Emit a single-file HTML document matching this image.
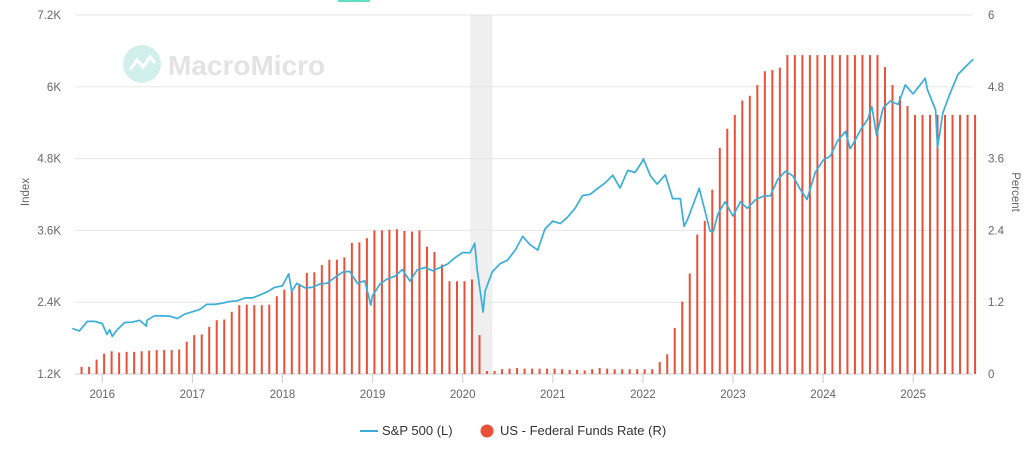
<!DOCTYPE html>
<html><head><meta charset="utf-8">
<style>
body{margin:0;background:#fff;font-family:"Liberation Sans",sans-serif;}
#wrap{position:relative;width:1029px;height:456px;overflow:hidden;}
svg text{font-family:"Liberation Sans",sans-serif;}
</style></head>
<body>
<div id="wrap">
<svg id="chart" width="1029" height="456"></svg>
</div>
<script>
const leftTicks=[1200,2400,3600,4800,6000,7200];
const leftTickLabels=["1.2K","2.4K","3.6K","4.8K","6K","7.2K"];
const rightTicks=[0,1.2,2.4,3.6,4.8,6];
const rightTickLabels=["0","1.2","2.4","3.6","4.8","6"];
const years=[2016,2017,2018,2019,2020,2021,2022,2023,2024,2025];
const ffStart=[2015,10];
const ffRate=[0.12,0.12,0.24,
0.34,0.38,0.36,0.37,0.37,0.38,0.39,0.40,0.40,0.40,0.41,0.54,
0.65,0.66,0.79,0.90,0.91,1.04,1.15,1.16,1.15,1.15,1.16,1.30,
1.41,1.42,1.51,1.69,1.70,1.82,1.91,1.91,1.95,2.19,2.20,2.27,
2.40,2.40,2.41,2.42,2.39,2.38,2.40,2.13,2.04,1.83,1.55,1.55,
1.55,1.58,0.65,0.05,0.05,0.08,0.09,0.10,0.09,0.09,0.09,0.09,
0.09,0.08,0.07,0.07,0.06,0.08,0.10,0.09,0.08,0.08,0.08,0.08,
0.08,0.08,0.20,0.33,0.77,1.21,1.68,2.33,2.56,3.08,3.78,4.10,
4.33,4.57,4.65,4.83,5.06,5.08,5.12,5.33,5.33,5.33,5.33,5.33,
5.33,5.33,5.33,5.33,5.33,5.33,5.33,5.33,5.13,4.83,4.64,4.48,
4.33,4.33,4.33,4.33,4.33,4.33,4.33,4.33,4.33];
const spDates=["2015-09-01","2015-09-30","2015-10-31","2015-11-30","2015-12-31","2016-01-20","2016-01-31","2016-02-11","2016-02-29","2016-03-31","2016-04-30","2016-05-31","2016-06-27","2016-06-30","2016-07-31","2016-08-31","2016-09-30","2016-10-31","2016-11-30","2016-12-31",
"2017-01-31","2017-02-28","2017-03-31","2017-04-30","2017-05-31","2017-06-30","2017-07-31","2017-08-31","2017-09-30","2017-10-31","2017-11-30","2017-12-31",
"2018-01-26","2018-02-08","2018-02-28","2018-03-31","2018-04-30","2018-05-31","2018-06-30","2018-07-31","2018-08-31","2018-09-30","2018-10-31","2018-11-30","2018-12-24","2018-12-31",
"2019-01-31","2019-02-28","2019-03-31","2019-04-30","2019-05-31","2019-06-30","2019-07-31","2019-08-31","2019-09-30","2019-10-31","2019-11-30","2019-12-31",
"2020-01-31","2020-02-19","2020-02-29","2020-03-23","2020-03-31","2020-04-30","2020-05-31","2020-06-30","2020-07-31","2020-08-31","2020-09-30","2020-10-31","2020-11-30","2020-12-31",
"2021-01-31","2021-02-28","2021-03-31","2021-04-30","2021-05-31","2021-06-30","2021-07-31","2021-08-31","2021-09-30","2021-10-31","2021-11-30","2021-12-31",
"2022-01-03","2022-01-31","2022-02-28","2022-03-31","2022-04-30","2022-05-31","2022-06-16","2022-06-30","2022-07-31","2022-08-16","2022-09-30","2022-10-12","2022-10-31","2022-11-30","2022-12-31",
"2023-01-31","2023-02-28","2023-03-31","2023-04-30","2023-05-31","2023-06-30","2023-07-31","2023-08-31","2023-09-30","2023-10-27","2023-11-30","2023-12-31",
"2024-01-31","2024-02-29","2024-03-31","2024-04-19","2024-04-30","2024-05-31","2024-06-30","2024-07-16","2024-08-05","2024-08-31","2024-09-30","2024-10-31","2024-11-30","2024-12-31",
"2025-01-31","2025-02-19","2025-02-28","2025-03-31","2025-04-08","2025-04-30","2025-05-31","2025-06-30","2025-07-31","2025-08-31"];
const spValues=[1960,1920,2079,2080,2044,1860,1940,1829,1932,2060,2065,2097,2000,2099,2174,2171,2168,2126,2199,2239,
2279,2364,2363,2384,2412,2423,2470,2472,2519,2575,2648,2674,
2873,2581,2714,2641,2648,2705,2718,2816,2902,2914,2712,2760,2351,2507,
2704,2784,2834,2946,2752,2942,2980,2926,2977,3038,3141,3231,
3226,3386,2954,2237,2585,2912,3044,3100,3271,3500,3363,3270,3622,3756,
3714,3811,3973,4181,4204,4298,4395,4523,4308,4605,4567,4766,
4797,4516,4374,4530,4132,4132,3667,3785,4130,4305,3586,3577,3872,4080,3840,
4077,3970,4109,4169,4180,4450,4589,4508,4288,4117,4568,4770,
4846,5096,5254,4967,5036,5278,5460,5667,5186,5648,5762,5705,6032,5882,
6041,6144,5955,5612,4983,5569,5912,6205,6339,6460];
const recession=["2020-02-01","2020-04-30"];

const NS="http://www.w3.org/2000/svg";
const svg=document.getElementById('chart');
const X0=75,X1=973,YT=15,YB=374;
function tYear(s){const p=s.split('-').map(Number);return p[0]+(p[1]-1)/12+(p[2]-1)/365;}
function xs(t){return 102.3+(t-2016)*90.1;}
function yL(v){return YB-(v-1200)/6000*(YB-YT);}
function yR(v){return YB-v/6*(YB-YT);}
function el(tag,attrs,parent){const e=document.createElementNS(NS,tag);for(const k in attrs)e.setAttribute(k,attrs[k]);(parent||svg).appendChild(e);return e;}

const wm=el('g',{opacity:0.35});


el('circle',{cx:142,cy:64,r:19,fill:'#7fd6c8'},wm);
el('path',{d:'M130 70 L137 60 L143 67 L150 57 L155 63',stroke:'#fff','stroke-width':3,fill:'none'},wm);
const wt=el('text',{x:168,y:75,'font-size':28,'font-weight':'bold',fill:'#b0b0b0'},wm);wt.textContent='MacroMicro';
el('rect',{x:338,y:0,width:32,height:2,fill:'#5fe0c0'});

const r=el('rect',{x:xs(tYear(recession[0])),y:YT,width:xs(tYear(recession[1]))-xs(tYear(recession[0])),height:YB-YT,fill:'#efefef'});



leftTicks.forEach((v,i)=>{
  const g=el('line',{x1:X0,x2:X1,y1:yL(v),y2:yL(v),stroke:i==0?'#ccc':'#e6e6e6','stroke-width':1});
  
  
  const t=el('text',{x:61,y:yL(v)+4,'text-anchor':'end','font-size':11.5,fill:'#666'});
  
  
  t.textContent=leftTickLabels[i];
});
rightTicks.forEach((v,i)=>{
  const t=el('text',{x:988,y:yR(v)+4,'font-size':11.5,fill:'#666'});
  
  
  t.textContent=rightTickLabels[i];
});
years.forEach(y=>{
  const x=xs(y);
  el('line',{x1:x,x2:x,y1:YB,y2:YB+9,stroke:'#ccc'});
  const t=el('text',{x:x,y:398,'text-anchor':'middle','font-size':11.5,fill:'#666'});
  
  
  t.textContent=y;
});
const yl=el('text',{x:0,y:0,transform:'translate(29,192) rotate(-90)','text-anchor':'middle','font-size':11.5,fill:'#666'});


yl.textContent='Index';
const yr=el('text',{x:0,y:0,transform:'translate(1012,192) rotate(90)','text-anchor':'middle','font-size':11.5,fill:'#666'});


yr.textContent='Percent';

ffRate.forEach((v,i)=>{
  const m=ffStart[1]-1+i;const t=ffStart[0]+m/12+0.02;
  const b=el('rect',{x:xs(t)-1,y:yR(v),width:2,height:YB-yR(v),fill:'#e8503a'});
  
  
});
let d='';
spDates.forEach((s,i)=>{d+=(i?'L':'M')+xs(tYear(s)).toFixed(1)+' '+yL(spValues[i]).toFixed(1);});
const ln=el('path',{d:d,stroke:'#3aaed8','stroke-width':1.7,fill:'none','stroke-linejoin':'round'});



const lg=el('g',{});


const l1=el('g',{},lg);


el('line',{x1:360,x2:378,y1:431,y2:431,stroke:'#3aaed8','stroke-width':2},l1);
const lt1=el('text',{x:382,y:435,'font-size':13,fill:'#333'},l1);lt1.textContent='S&P 500 (L)';
const l2=el('g',{},lg);


el('circle',{cx:487,cy:431,r:6.5,fill:'#e8503a'},l2);
const lt2=el('text',{x:500,y:435,'font-size':13,fill:'#333'},l2);lt2.textContent='US - Federal Funds Rate (R)';
</script>
</body></html>
